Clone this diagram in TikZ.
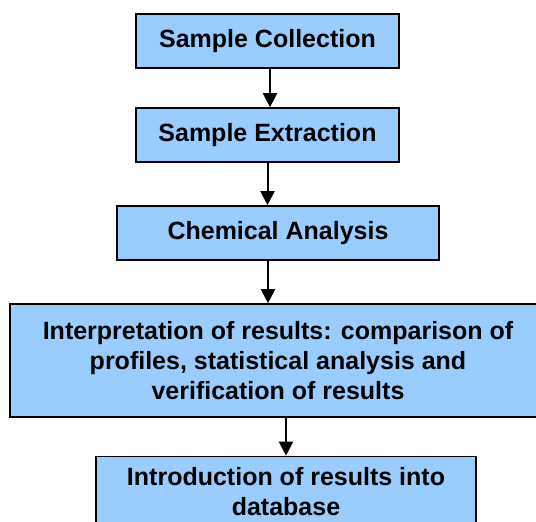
\documentclass[tikz,border=0pt]{standalone}
\usepackage{fontspec}
\setmainfont{Liberation Sans}
\usetikzlibrary{arrows.meta}
\definecolor{boxblue}{HTML}{99CCFF}
\tikzset{
  x=1pt, y=1pt,
  boxfont/.style={font=\fontsize{25}{30}\selectfont\bfseries, align=center, text=black},
  stepbox/.style={draw=black, line width=1.6pt, fill=boxblue, inner sep=0pt, boxfont},
  arr/.style={line width=2pt, -{Triangle[width=14pt,length=14pt]}},
}
\begin{document}
\begin{tikzpicture}
\useasboundingbox (0,0) rectangle (536,-522);
\node[stepbox, minimum width=263pt, minimum height=54pt] (c1) at (267.5,-41) {Sample Collection};
\node[stepbox, minimum width=263pt, minimum height=54pt] (c2) at (267.5,-135) {Sample Extraction};
\node[stepbox, minimum width=322pt, minimum height=54pt] (c3) at (278,-233) {Chemical Analysis};
\node[stepbox, minimum width=536pt, minimum height=113pt] (c4) at (278,-360.5) {Interpretation of results: comparison of\\profiles, statistical analysis and\\verification of results};
\node[stepbox, minimum width=380pt, minimum height=90pt] (c5) at (286,-501.5) {};
\node[boxfont, inner sep=0pt, anchor=base] (t5) at (286,-515.5) {Introduction of results into\\database};
\draw[arr] ([xshift=2.5pt]c1.south) -- ([xshift=2.5pt]c1.south |- c2.north);
\draw[arr] (c2.south) -- (c2.south |- c3.north);
\draw[arr] ([xshift=-10pt]c3.south) -- ([xshift=-10pt]c3.south |- c4.north);
\draw[arr] (c5.north |- c4.south) -- (c5.north);
\end{tikzpicture}
\end{document}
